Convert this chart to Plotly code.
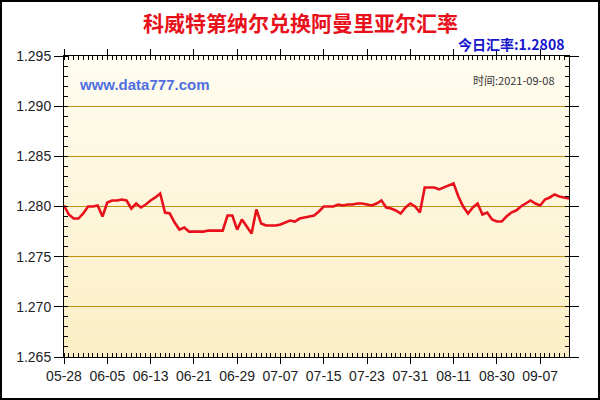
import plotly.graph_objects as go

# exchange-rate readings (one per trading point)
rates = [
    1.2801, 1.2792, 1.2788, 1.2788, 1.2793, 1.2800, 1.2800, 1.2801, 1.2790, 1.2804,
    1.2806, 1.2806, 1.2807, 1.2806, 1.2798, 1.2803, 1.2799, 1.2802, 1.2806, 1.2809,
    1.2813, 1.2794, 1.2793, 1.2784, 1.2777, 1.2779, 1.2775, 1.2775, 1.2775, 1.2775,
    1.2776, 1.2776, 1.2776, 1.2776, 1.2791, 1.2791, 1.2777, 1.2787, 1.2780, 1.2773,
    1.2797, 1.2783, 1.2781, 1.2781, 1.2781, 1.2782, 1.2784, 1.2786, 1.2785, 1.2788,
    1.2789, 1.2790, 1.2791, 1.2795, 1.2800, 1.2800, 1.2800, 1.2802, 1.2801, 1.2802,
    1.2802, 1.2803, 1.2803, 1.2802, 1.2801, 1.2803, 1.2806, 1.2799, 1.2798, 1.2796,
    1.2793, 1.2799, 1.2803, 1.2800, 1.2794, 1.2819, 1.2819, 1.2819, 1.2817, 1.2819,
    1.2821, 1.2823, 1.2810, 1.2800, 1.2793, 1.2799, 1.2803, 1.2792, 1.2794, 1.2787,
    1.2785, 1.2785, 1.2790, 1.2794, 1.2796, 1.2800, 1.2803, 1.2806, 1.2803, 1.2801,
    1.2807, 1.2809, 1.2812, 1.2810, 1.2809, 1.2808,
]
tick_labels = ["05-28", "06-05", "06-13", "06-21", "06-29", "07-07",
               "07-15", "07-23", "07-31", "08-11", "08-30", "09-07"]
tick_step = 9
y_ticks = [1.265, 1.270, 1.275, 1.280, 1.285, 1.290, 1.295]

title_text = "科威特第纳尔兑换阿曼里亚尔汇率"
today_text = "今日汇率:1.2808"
site_text = "www.data777.com"
time_text = "时间:2021-09-08"

idx = list(range(len(rates)))
tick_idx = [i * tick_step for i in range(len(tick_labels))]

fig = go.Figure()
fig.add_trace(go.Scatter(
    x=idx, y=rates, mode="lines",
    line=dict(color="#E8101A", width=2.6),
    hoverinfo="skip", showlegend=False,
))

W, H = 600, 400
ml, mr, mt, mb = 64, 31, 56, 43
pw, ph = W - ml - mr, H - mt - mb

shapes = []
# gradient background for plot area
n_bands = 40
top = (255, 253, 240)
bot = (252, 238, 196)
for k in range(n_bands):
    t = k / (n_bands - 1)
    c = tuple(int(round(top[j] + (bot[j] - top[j]) * t)) for j in range(3))
    shapes.append(dict(type="rect", xref="paper", yref="paper",
                       x0=0, x1=1, y0=1 - (k + 1) / n_bands, y1=1 - k / n_bands,
                       fillcolor="rgb(%d,%d,%d)" % c, line=dict(width=0), layer="below"))
# outer frame of figure
shapes.append(dict(type="rect", xref="paper", yref="paper",
                   x0=(-ml + 1) / pw, x1=(W - ml - 1) / pw,
                   y0=(-mb + 1) / ph, y1=(H - mb - 1) / ph,
                   line=dict(color="#000000", width=2), fillcolor="rgba(0,0,0,0)"))

fig.update_layout(
    width=W, height=H,
    margin=dict(l=ml, r=mr, t=mt, b=mb, pad=0),
    paper_bgcolor="#FFFFFF",
    plot_bgcolor="rgba(0,0,0,0)",
    shapes=shapes,
    font=dict(family="Liberation Sans, Arial, sans-serif", color="#333333"),
    xaxis=dict(
        range=[0, len(rates) - 1],
        tickvals=tick_idx, ticktext=tick_labels,
        ticks="outside", ticklen=6, tickcolor="#000000", tickwidth=1,
        minor=dict(dtick=1, ticks="inside", ticklen=4, tickcolor="#000000", tick0=0),
        showgrid=False, zeroline=False,
        showline=True, linecolor="#000000", linewidth=1, mirror="ticks",
        tickfont=dict(size=14, color="#222222"),
    ),
    yaxis=dict(
        range=[1.265, 1.295],
        tickvals=y_ticks, ticktext=["%.3f" % v for v in y_ticks],
        ticks="outside", ticklen=9, tickcolor="#000000", tickwidth=1,
        minor=dict(dtick=0.001, tick0=1.265, ticks="inside", ticklen=4,
                   tickcolor="#000000", showgrid=False),
        showgrid=True, gridcolor="#C09010", gridwidth=1,
        zeroline=False,
        showline=True, linecolor="#000000", linewidth=1, mirror="ticks",
        tickfont=dict(size=14, color="#222222"),
    ),
    annotations=[
        dict(text="<b>" + title_text + "</b>", xref="paper", yref="paper",
             x=(300 - ml) / pw, y=(H - mb - 22) / ph, xanchor="center", yanchor="middle",
             showarrow=False,
             font=dict(family="Noto Sans CJK SC", size=21, color="#E8101A")),
        dict(text="<b>" + today_text + "</b>", xref="paper", yref="paper",
             x=(566 - ml) / pw, y=(H - mb - 44) / ph, xanchor="right", yanchor="middle",
             showarrow=False,
             font=dict(family="Noto Sans CJK SC", size=14, color="#1515CC")),
        dict(text="<b>" + site_text + "</b>", xref="paper", yref="paper",
             x=(77 - ml) / pw, y=(H - mb - 84) / ph, xanchor="left", yanchor="middle",
             showarrow=False,
             font=dict(family="Liberation Sans, Arial", size=15, color="#4F6FE0")),
        dict(text=time_text, xref="paper", yref="paper",
             x=(557 - ml) / pw, y=(H - mb - 80) / ph, xanchor="right", yanchor="middle",
             showarrow=False,
             font=dict(family="Noto Sans CJK SC", size=11, color="#333333")),
    ],
)

fig.write_html("out.html",
               config={"displayModeBar": False, "staticPlot": True},
               post_script="document.body.style.margin='0';document.body.style.padding='0';")
